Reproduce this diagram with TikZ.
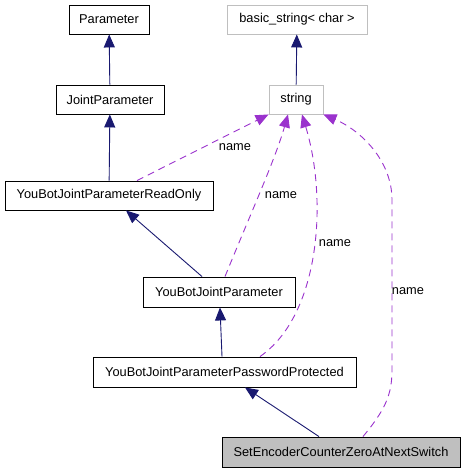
\documentclass[tikz,border=0pt]{standalone}
\usepackage{fontspec}
\setmainfont{Liberation Sans}
\usetikzlibrary{arrows.meta}
\definecolor{navy}{HTML}{191970}
\definecolor{purp}{HTML}{9A32CD}
\definecolor{gborder}{HTML}{BFBFBF}
\definecolor{gfill}{HTML}{BFBFBF}
\begin{document}
\begin{tikzpicture}[x=1pt,y=-1pt,
 cls/.style={draw=black,line width=0.9pt,inner sep=0pt,font=\fontsize{12.8}{14}\selectfont},
 ext/.style={cls,draw=gborder},
 inh/.style={navy,line width=0.9pt,-{Triangle[length=13pt,width=11pt]}},
 use/.style={purp,line width=0.9pt,dash pattern=on 7pt off 5pt,-{Triangle[length=13pt,width=11pt]}},
 lbl/.style={font=\fontsize{12.8}{14}\selectfont,inner sep=0pt}]
\useasboundingbox (0,0) rectangle (465,472);
\node[cls,minimum width=80pt,minimum height=29pt] (p) at (109,19.5) {Parameter};
\node[cls,minimum width=108pt,minimum height=29pt] (jp) at (110,99.5) {JointParameter};
\node[cls,minimum width=208pt,minimum height=29pt] (ro) at (109,195.5) {YouBotJointParameterReadOnly};
\node[ext,minimum width=140pt,minimum height=29pt] (bs) at (297,19.5) {basic\_string< char >};
\node[ext,minimum width=54pt,minimum height=29pt] (s) at (296,99.5) {string};
\node[cls,minimum width=152pt,minimum height=30pt] (yjp) at (219,292) {YouBotJointParameter};
\node[cls,minimum width=263pt,minimum height=30pt] (pp) at (224.5,372) {YouBotJointParameterPasswordProtected};
\node[cls,fill=gfill,minimum width=238pt,minimum height=30pt] (se) at (341,452) {SetEncoderCounterZeroAtNextSwitch};

\draw[inh] (jp) -- (p);
\draw[inh] (ro) -- (jp);
\draw[inh] (s) -- (bs);
\draw[inh] ([xshift=-17pt]yjp.north) -- ([xshift=17pt]ro.south);
\draw[inh] ([xshift=-2.5pt]pp.north) -- ([xshift=1pt]yjp.south);
\draw[inh] ([xshift=-22pt]se.north) -- ([xshift=20.5pt]pp.south);

\draw[use] ([xshift=28pt]ro.north) -- (s.south west);
\draw[use] ([xshift=6pt]yjp.north) .. controls (250,215) and (275,160) .. ([xshift=-8pt]s.south);
\draw[use] ([xshift=35.5pt]pp.north) .. controls (320,315) and (328,200) .. ([xshift=6pt]s.south);
\draw[use] ([xshift=22pt]se.north) .. controls (385,410) and (392,395) .. (392,370) -- (392,200) .. controls (392,160) and (360,130) .. (s.south east);

\node[lbl] (n1) at (235,147) {name};
\node[lbl] (n2) at (281,195) {name};
\node[lbl] (n3) at (335,243) {name};
\node[lbl] (n4) at (408,291) {name};
\end{tikzpicture}
\end{document}
